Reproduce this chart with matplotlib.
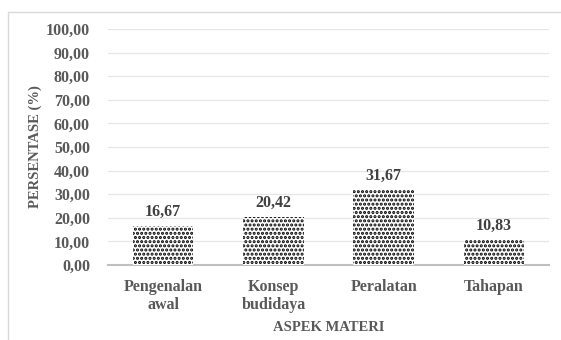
import matplotlib.pyplot as plt
from matplotlib.patches import Rectangle

categories = ['Pengenalan\nawal', 'Konsep\nbudidaya', 'Peralatan', 'Tahapan']
values = [16.67, 20.42, 31.67, 10.83]
yticks = [0, 10, 20, 30, 40, 50, 60, 70, 80, 90, 100]

plt.rcParams['font.family'] = ['Liberation Serif', 'DejaVu Serif']
plt.rcParams['font.weight'] = 'bold'
plt.rcParams['axes.labelweight'] = 'bold'
plt.rcParams['hatch.linewidth'] = 1.5
txt = '#595959'

fig = plt.figure(figsize=(5.61, 3.40), dpi=100)
ax = fig.add_axes([108 / 561, 1 - 265 / 340, 441 / 561, 236 / 340])

x = range(len(categories))
ax.bar(x, values, width=0.55, color='white', edgecolor='black',
       hatch='....', linewidth=0, zorder=3)

for xi, v in zip(x, values):
    ax.text(xi, v + 2.5, f'{v:.2f}'.replace('.', ','), ha='center', va='bottom',
            fontsize=11.5, color='#404040', fontweight='bold')

ax.set_xlim(-0.5, len(categories) - 0.5)
ax.set_ylim(0, 100)
ax.set_yticks(yticks)
ax.set_yticklabels([f'{t:.2f}'.replace('.', ',') for t in yticks])
ax.set_xticks(list(x))
ax.set_xticklabels(categories, linespacing=1.15)
ax.tick_params(axis='both', length=0, labelsize=11.5, colors=txt)
ax.tick_params(axis='y', pad=13)
ax.tick_params(axis='x', pad=10)

ax.grid(axis='y', color='#e6e6e6', linewidth=0.9, zorder=0)
for s in ['top', 'right', 'left']:
    ax.spines[s].set_visible(False)
ax.spines['bottom'].set_color('#bfbfbf')
ax.spines['bottom'].set_linewidth(1.5)

ax.set_ylabel('PERSENTASE (%)', fontsize=10.5, color=txt, labelpad=3)
ax.set_xlabel('ASPEK MATERI', fontsize=10.5, color=txt, labelpad=6)

fig.patches.append(Rectangle((8 / 561, -0.1), 1.0, 1 - 12 / 340 + 0.1,
                             transform=fig.transFigure, fill=False,
                             edgecolor='#d9d9d9', linewidth=1.0))

fig.savefig('out.png', dpi=100)
